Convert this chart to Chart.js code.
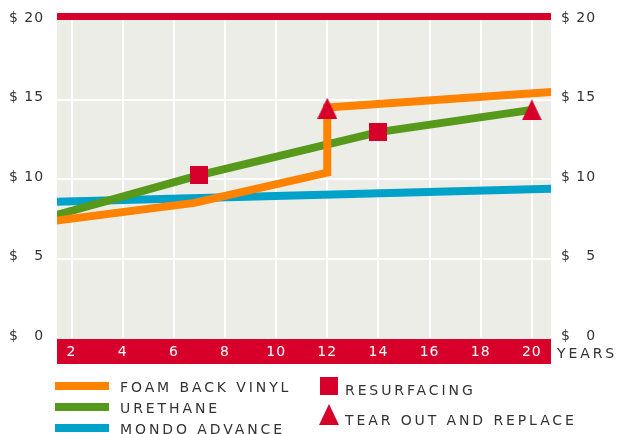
<!DOCTYPE html>
<html><head><meta charset="utf-8">
<script src="https://cdn.jsdelivr.net/npm/chart.js@4/dist/chart.umd.min.js"></script>
<style>
html,body{margin:0;padding:0;background:#fff;}
#wrap{position:relative;width:619px;height:434px;overflow:hidden;font-family:"DejaVu Sans",sans-serif;color:#333;}
#c{position:absolute;left:0;top:0;}
.lg{position:absolute;font-size:14px;line-height:14px;letter-spacing:2.9px;white-space:nowrap;}
.sw{position:absolute;}
</style></head><body>
<div id="wrap">
<canvas id="c" width="619" height="434"></canvas>
</div>
<script>
// ---- data ----
const seriesNames = ['FOAM BACK VINYL', 'URETHANE', 'MONDO ADVANCE'];
const markerNames = ['RESURFACING', 'TEAR OUT AND REPLACE'];
const foamYears = [1, 6.8, 12, 12, 21];
const foamCost = [7.3, 8.5, 10.4, 14.5, 15.5];
const urethaneYears = [1, 7, 14, 20];
const urethaneCost = [7.55, 10.25, 12.95, 14.35];
const mondoYears = [1, 21];
const mondoCost = [8.55, 9.4];
const resurfacingYears = [7, 14];
const resurfacingCost = [10.25, 12.95];
const replaceYears = [12, 20];
const replaceCost = [14.45, 14.35];
const xTickValues = [2, 4, 6, 8, 10, 12, 14, 16, 18, 20];
const yTickValues = [0, 5, 10, 15, 20];
const yTickLabels = ['$ \u20070', '$ \u20075', '$ 10', '$ 15', '$ 20'];
const xAxisTitle = 'YEARS';
const xMin = 1.43, xMax = 20.75, yMin = 0, yMax = 20;

// ---- styles ----
const RED = '#D6002A', ORANGE = '#FF8200', GREEN = '#56991B', BLUE = '#00A2C9', GREY = '#EDEDE8', TXT = '#333333';

function pts(xs, ys) { return xs.map((x, i) => ({x: x, y: ys[i]})); }
function makeSquare() {
  const c = document.createElement('canvas'); c.width = 18; c.height = 18;
  const g = c.getContext('2d'); g.fillStyle = RED; g.fillRect(0, 0, 18, 18); return c;
}
function makeTriangle() {
  const c = document.createElement('canvas'); c.width = 20; c.height = 21;
  const g = c.getContext('2d'); g.fillStyle = RED; g.beginPath();
  g.moveTo(10, 0); g.lineTo(20, 21); g.lineTo(0, 21); g.closePath(); g.fill(); return c;
}
const sq = makeSquare(), tri = makeTriangle();

const bgPlugin = {
  id: 'bg',
  beforeDraw(chart) {
    const {ctx, chartArea: a} = chart;
    ctx.letterSpacing = '1px';
    ctx.save();
    ctx.fillStyle = GREY;
    ctx.fillRect(a.left, a.top, a.right - a.left, a.bottom - a.top + 1);
    ctx.fillStyle = RED;
    ctx.fillRect(a.left, a.top - 7, a.right - a.left, 7);
    ctx.fillRect(a.left, a.bottom + 1, a.right - a.left, 25);
    ctx.restore();
  }
};

Chart.defaults.font.family = '"DejaVu Sans", sans-serif';
Chart.defaults.font.size = 14;

const yTicks = {
  color: TXT, font: {size: 14},
  callback: (v) => yTickLabels[yTickValues.indexOf(v)]
};

new Chart(document.getElementById('c'), {
  type: 'line',
  data: {
    datasets: [
      {label: markerNames[0], data: pts(resurfacingYears, resurfacingCost), showLine: false,
       pointStyle: sq, pointRadius: 10, order: 0, clip: false},
      {label: markerNames[1], data: pts(replaceYears, replaceCost), showLine: false,
       pointStyle: tri, pointRadius: 10, order: 0, clip: false},
      {label: seriesNames[0], data: pts(foamYears, foamCost), borderColor: ORANGE, borderWidth: 8,
       pointRadius: 0, order: 1, clip: 0, tension: 0, fill: false, borderJoinStyle: 'miter', borderCapStyle: 'butt'},
      {label: seriesNames[1], data: pts(urethaneYears, urethaneCost), borderColor: GREEN, borderWidth: 8,
       pointRadius: 0, order: 2, clip: 0, tension: 0, fill: false, borderJoinStyle: 'miter', borderCapStyle: 'butt'},
      {label: seriesNames[2], data: pts(mondoYears, mondoCost), borderColor: BLUE, borderWidth: 8,
       pointRadius: 0, order: 3, clip: 0, tension: 0, fill: false, borderJoinStyle: 'miter', borderCapStyle: 'butt'}
    ]
  },
  options: {
    responsive: false, animation: false, events: [],
    layout: {padding: {left: 9, top: 20, right: 0, bottom: 0}},
    plugins: {legend: {display: false}, tooltip: {enabled: false}},
    scales: {
      x: {
        type: 'linear', min: xMin, max: xMax, position: 'bottom',
        afterBuildTicks: s => { s.ticks = xTickValues.map(v => ({value: v})); },
        afterFit: s => { s.height = 96; },
        grid: {color: '#FFFFFF', lineWidth: 2, drawTicks: false},
        border: {display: false},
        ticks: {color: '#FFFFFF', font: {size: 14}, padding: 6, autoSkip: false, maxRotation: 0,
                callback: v => String(v)}
      },
      y: {
        type: 'linear', min: yMin, max: yMax, position: 'left',
        afterBuildTicks: s => { s.ticks = yTickValues.map(v => ({value: v})); },
        afterFit: s => { s.width = 48; },
        grid: {color: c => (c.tick && (c.tick.value === yMin || c.tick.value === yMax)) ? 'rgba(0,0,0,0)' : '#FFFFFF',
               lineWidth: 2, drawTicks: false},
        border: {display: false},
        ticks: Object.assign({crossAlign: 'far', labelOffset: -2}, yTicks)
      },
      y2: {
        type: 'linear', min: yMin, max: yMax, position: 'right',
        afterBuildTicks: s => { s.ticks = yTickValues.map(v => ({value: v})); },
        afterFit: s => { s.width = 68; },
        grid: {display: false, drawTicks: false},
        border: {display: false},
        ticks: Object.assign({padding: 10, labelOffset: -2}, yTicks)
      }
    }
  },
  plugins: [bgPlugin]
});

// ---- legend & axis title (HTML text) ----
const wrap = document.getElementById('wrap');
function addDiv(cls, css, text) {
  const d = document.createElement('div'); d.className = cls; d.style.cssText = css;
  if (text) d.textContent = text; wrap.appendChild(d); return d;
}
const lineColors = [ORANGE, GREEN, BLUE];
const lineTops = [382, 403, 424];
const lineTextTops = [380, 401, 422];
seriesNames.forEach((n, i) => {
  addDiv('sw', `left:55px;top:${lineTops[i]}px;width:54px;height:8px;background:${lineColors[i]}`);
  addDiv('lg', `left:120px;top:${lineTextTops[i]}px`, n);
});
addDiv('sw', `left:320px;top:377px;width:18px;height:18px;background:${RED}`);
addDiv('lg', `left:345px;top:383px`, markerNames[0]);
addDiv('sw', `left:319px;top:404px;width:20px;height:21px;background:${RED};clip-path:polygon(50% 0,100% 100%,0 100%)`);
addDiv('lg', `left:345px;top:413px`, markerNames[1]);
addDiv('lg', `left:557px;top:346px`, xAxisTitle);
</script>
</body></html>
